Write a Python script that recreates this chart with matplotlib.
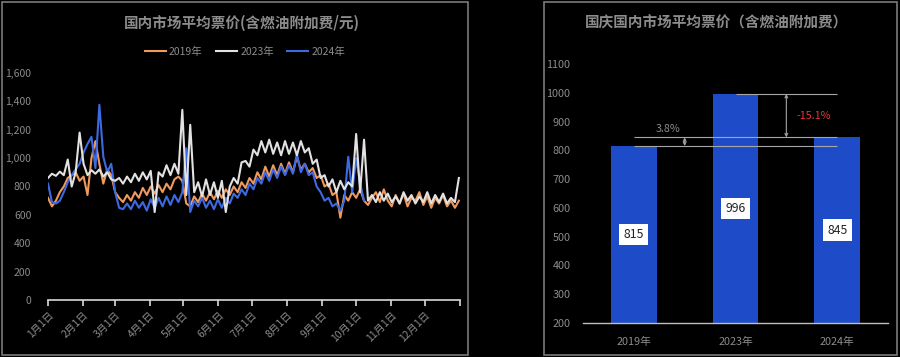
import numpy as np
import matplotlib
matplotlib.use('Agg')
import matplotlib.pyplot as plt
from matplotlib.patches import Rectangle

plt.rcParams['font.family'] = ['Noto Sans CJK SC', 'DejaVu Sans']

# ---------------- data ----------------
left_title = '国内市场平均票价(含燃油附加费/元)'
right_title = '国庆国内市场平均票价（含燃油附加费）'

sample_step_days = 3.5
month_starts = [0, 31, 59, 90, 120, 151, 181, 212, 243, 273, 304, 334, 365]
month_labels = ['1月1日', '2月1日', '3月1日', '4月1日', '5月1日', '6月1日',
                '7月1日', '8月1日', '9月1日', '10月1日', '11月1日', '12月1日']
series_names = ['2019年', '2023年', '2024年']

price_2019 = [720, 660, 700, 760, 800, 860, 880, 900, 840, 870,
              740, 1000, 1120, 960, 820, 920, 880, 760, 720, 690,
              740, 700, 760, 720, 790, 740, 800, 750, 810, 760,
              820, 780, 850, 870, 840, 680, 660, 730, 690, 750,
              700, 760, 710, 770, 720, 780, 740, 800, 760, 830,
              790, 860, 820, 900, 850, 940, 870, 950, 880, 960,
              890, 970, 900, 1010, 920, 960, 900, 930, 860, 880,
              800, 820, 740, 760, 580, 740, 700, 760, 720, 780,
              700, 670, 720, 760, 690, 780, 700, 660, 740, 680,
              750, 660, 720, 700, 760, 670, 730, 650, 720, 680,
              740, 660, 700, 650, 700]

price_2023 = [860, 890, 875, 905, 880, 990, 800, 900, 1180, 960,
              880, 915, 890, 920, 870, 900, 850, 840, 860, 820,
              870, 830, 890, 840, 900, 850, 910, 620, 900, 870,
              950, 880, 960, 890, 1340, 740, 1235, 760, 830, 730,
              850, 740, 830, 720, 840, 620, 800, 860, 820, 970,
              980, 940, 1060, 1020, 1120, 1040, 1130, 1030, 1110, 1020,
              1120, 1030, 1110, 1020, 1120, 1040, 1070, 960, 990, 860,
              880, 800, 850, 760, 840, 780, 830, 800, 1170, 760,
              1130, 700, 740, 690, 760, 700, 750, 690, 730, 680,
              760, 700, 740, 680, 730, 690, 760, 680, 740, 690,
              750, 680, 720, 690, 860]

price_2024 = [820, 690, 680, 700, 760, 830, 880, 920, 960, 1040,
              1100, 1150, 930, 1376, 1010, 900, 960, 760, 650, 640,
              680, 640, 700, 650, 690, 630, 710, 650, 720, 660,
              730, 670, 740, 690, 760, 1070, 620, 700, 660, 720,
              650, 700, 640, 710, 650, 720, 680, 750, 720, 780,
              740, 820, 780, 860, 820, 900, 840, 920, 860, 940,
              880, 950, 890, 1030, 900, 960, 880, 900, 800, 760,
              700, 720, 660, 680, 630, 700, 1010, 760, 1000, 820,
              700]

bar_years = ['2019年', '2023年', '2024年']
bar_values = [815, 996, 845]
change_labels = ['3.8%', '-15.1%']

# ---------------- styles ----------------
line_colors = ['#F09A5E', '#E2E2E2', '#3D6AE2']
grey_text = '#8C8C8C'
bar_color = '#1E4CC8'

fig = plt.figure(figsize=(9, 3.57), dpi=100, facecolor='black')
W, H = 900, 357

# panel frames
fig.add_artist(Rectangle((2 / W, 2 / H), 466 / W, 353 / H, transform=fig.transFigure,
                         fill=False, ec='#7A7A7A', lw=1.2))
fig.add_artist(Rectangle((544 / W, 2 / H), 353 / W, 353 / H, transform=fig.transFigure,
                         fill=False, ec='#7A7A7A', lw=1.2))

# ---------------- left: line chart ----------------
ax1 = fig.add_axes([48 / W, 57 / H, 412 / W, 227 / H])
ax1.set_facecolor('black')
series = [price_2019, price_2023, price_2024]
draw_order = [0, 2, 1]
handles = {}
for k in draw_order:
    vals = series[k]
    days = np.arange(len(vals)) * sample_step_days
    ln, = ax1.plot(days, vals, color=line_colors[k], lw=1.5,
                   solid_joinstyle='round', zorder=2 + draw_order.index(k))
    handles[k] = ln
ax1.set_xlim(month_starts[0], month_starts[-1])
ax1.set_ylim(0, 1600)
ax1.set_yticks(np.arange(0, 1601, 200))
ax1.set_yticklabels([f'{v:,}' for v in range(0, 1601, 200)])
ax1.set_xticks(month_starts)
ax1.set_xticklabels(month_labels + [''], rotation=45, ha='right', rotation_mode='anchor')
for s in ['top', 'right', 'left']:
    ax1.spines[s].set_visible(False)
ax1.spines['bottom'].set_color('#D9D9D9')
ax1.spines['bottom'].set_linewidth(1.2)
ax1.tick_params(axis='x', direction='out', length=4, width=1.2, color='#D9D9D9',
                labelcolor=grey_text, labelsize=7.5, pad=3)
ax1.tick_params(axis='y', length=0, labelcolor=grey_text, labelsize=7.5, pad=12)

fig.text(242 / W, 1 - 23 / H, left_title, ha='center', va='center',
         color=grey_text, fontsize=10.5, fontweight='bold')
fig.legend([handles[0], handles[1], handles[2]], series_names,
           loc='center', bbox_to_anchor=(245 / W, 1 - 52 / H), ncol=3,
           frameon=False, fontsize=7.5, handlelength=2.0, handletextpad=0.3,
           columnspacing=1.3, labelcolor=grey_text)

# ---------------- right: bar chart ----------------
ax2 = fig.add_axes([583 / W, 34 / H, 305 / W, 259 / H])
ax2.set_facecolor('black')
x = np.arange(len(bar_years))
ax2.bar(x, bar_values, width=0.45, color=bar_color, zorder=2)
ax2.set_xlim(-0.5, len(bar_years) - 0.5)
ax2.set_ylim(200, 1100)
ax2.set_yticks(np.arange(200, 1101, 100))
ax2.set_xticks(x)
ax2.set_xticklabels(bar_years)
for s in ['top', 'right', 'left']:
    ax2.spines[s].set_visible(False)
ax2.spines['bottom'].set_color('#BFBFBF')
ax2.spines['bottom'].set_linewidth(1.0)
ax2.spines['bottom'].set_zorder(3)
ax2.tick_params(axis='x', length=0, labelcolor=grey_text, labelsize=7.8, pad=10)
ax2.tick_params(axis='y', length=0, labelcolor=grey_text, labelsize=7.8, pad=9)

ybase = ax2.get_ylim()[0]
for xi, v in zip(x, bar_values):
    ax2.text(xi, (v + ybase) / 2, f'{v}', ha='center', va='center', fontsize=8.8,
             color='#222222', zorder=4,
             bbox=dict(boxstyle='square,pad=0.35', fc='white', ec='none'))

ann_color = '#A6A6A6'
v19, v23, v24 = bar_values
ax2.hlines(v23, x[1], x[2], color=ann_color, lw=0.8, zorder=3)
ax2.hlines(v24, x[0], x[2], color=ann_color, lw=0.8, zorder=3)
ax2.hlines(v19, x[0], x[2], color=ann_color, lw=0.8, zorder=3)
ax2.annotate('', xy=((x[0] + x[1]) / 2, v24), xytext=((x[0] + x[1]) / 2, v19),
             arrowprops=dict(arrowstyle='<->', color=ann_color, lw=0.8,
                             shrinkA=0, shrinkB=0, mutation_scale=5))
ax2.annotate('', xy=((x[1] + x[2]) / 2, v23), xytext=((x[1] + x[2]) / 2, v24),
             arrowprops=dict(arrowstyle='<->', color=ann_color, lw=0.8,
                             shrinkA=0, shrinkB=0, mutation_scale=5))
ax2.text((x[0] + x[1]) / 2 - 0.16, v24 + 30, change_labels[0], ha='center', va='center',
         color=grey_text, fontsize=7.8)
ax2.text((x[1] + x[2]) / 2 + 0.27, (v23 + v24) / 2, change_labels[1], ha='center',
         va='center', color='#E8333C', fontsize=7.8, fontweight='medium')

fig.text(717 / W, 1 - 23 / H, right_title, ha='center', va='center',
         color=grey_text, fontsize=10.5, fontweight='bold')

fig.savefig('out.png', dpi=100, facecolor='black')
